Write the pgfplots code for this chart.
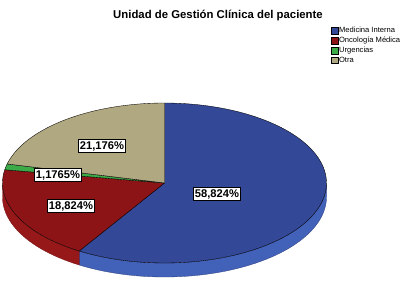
\documentclass[border=0pt]{standalone}
\usepackage{fontspec}
\setmainfont{Liberation Sans}
\usepackage{pgfplots}
\usepackage{pgfplotstable}
\pgfplotsset{compat=1.18}
\definecolor{cBlue}{RGB}{52,72,152}
\definecolor{cBlueS}{RGB}{66,98,186}
\definecolor{cRed}{RGB}{140,20,22}
\definecolor{cRedS}{RGB}{150,24,24}
\definecolor{cGreen}{RGB}{60,170,70}
\definecolor{cTan}{RGB}{176,168,128}
\pgfplotstableread{
pct
58.824
18.824
1.1765
21.176
}\pietbl
\begin{document}
\begin{tikzpicture}
\useasboundingbox (0,0) rectangle (413bp,289bp);
\pgfplotstablegetelem{0}{pct}\of\pietbl \let\pA\pgfplotsretval
\pgfplotstablegetelem{1}{pct}\of\pietbl \let\pB\pgfplotsretval
\pgfplotstablegetelem{2}{pct}\of\pietbl \let\pC\pgfplotsretval
\pgfplotstablegetelem{3}{pct}\of\pietbl \let\pD\pgfplotsretval
\pgfmathsetmacro\aA{90-3.6*\pA}
\pgfmathsetmacro\aB{\aA-3.6*\pB}
\pgfmathsetmacro\aC{\aB-3.6*\pC}
\pgfmathsetmacro\aD{\aC-3.6*\pD}
\begin{axis}[
  at={(0,0)}, anchor=south west,
  width=413bp, height=289bp, scale only axis,
  xmin=0, xmax=413, ymin=0, ymax=289, y dir=reverse,
  hide axis, clip=false,
  declare function={
    thS(\t,\A,\B)=(\t<100.5) ? (\A+(\B-\A)*\t/100) : (\B-(\B-\A)*(\t-101)/100);
    dS(\t)=(\t<100.5) ? 0 : 14;
  },
  legend style={at={(axis cs:331,26.5)}, anchor=north west, draw=none, fill=none,
    font=\fontsize{7.6}{8.5}\selectfont, inner sep=0pt, row sep=1.6bp,
    nodes={inner sep=0.6bp}},
  legend cell align=left,
  legend image code/.code={\draw[#1, draw=black, line width=0.3pt] (0bp,-3.3bp) rectangle (7bp,3.3bp);},
]
% sides
\addplot[forget plot, fill=cBlueS, draw=cBlue!80!black, line width=0.3pt, domain=0:201, samples=202, variable=\t]
  ({164.5+162*cos(thS(\t,\aA,0))},{183-80*sin(thS(\t,\aA,0))+dS(\t)}) -- cycle;
\addplot[forget plot, fill=cRedS, draw=cRed!80!black, line width=0.3pt, domain=0:201, samples=202, variable=\t]
  ({164.5+162*cos(thS(\t,-180,\aA))},{183-80*sin(thS(\t,-180,\aA))+dS(\t)}) -- cycle;
% tops
\addplot[fill=cBlue, draw=black, line width=0.35pt, domain=\aA:90, samples=90, variable=\t]
  ({164.5+162*cos(\t)},{183-80*sin(\t)}) -- (axis cs:164.5,183) -- cycle;
\addplot[fill=cRed, draw=black, line width=0.35pt, domain=\aB:\aA, samples=40, variable=\t]
  ({164.5+162*cos(\t)},{183-80*sin(\t)}) -- (axis cs:164.5,183) -- cycle;
\addplot[fill=cGreen, draw=black, line width=0.35pt, domain=\aC:\aB, samples=5, variable=\t]
  ({164.5+162*cos(\t)},{183-80*sin(\t)}) -- (axis cs:164.5,183) -- cycle;
\addplot[fill=cTan, draw=black, line width=0.35pt, domain=\aD:\aC, samples=40, variable=\t]
  ({164.5+162*cos(\t)},{183-80*sin(\t)}) -- (axis cs:164.5,183) -- cycle;
\legend{Medicina Interna, Oncología Médica, Urgencias, Otra}
% labels
\tikzset{lbl/.style={fill=white, draw=black, line width=0.4pt, inner sep=1.6bp, font=\bfseries\fontsize{11.2}{13}\selectfont}}
\node[lbl] at (axis cs:217,194) {58,824\%};
\node[lbl] at (axis cs:71,206) {18,824\%};
\node[lbl] at (axis cs:58,175) {1,1765\%};
\node[lbl] at (axis cs:102,146) {21,176\%};
\node[font=\bfseries\fontsize{11.4}{13}\selectfont] at (axis cs:218,16) {Unidad de Gestión Clínica del paciente};
\end{axis}
\end{tikzpicture}
\end{document}
